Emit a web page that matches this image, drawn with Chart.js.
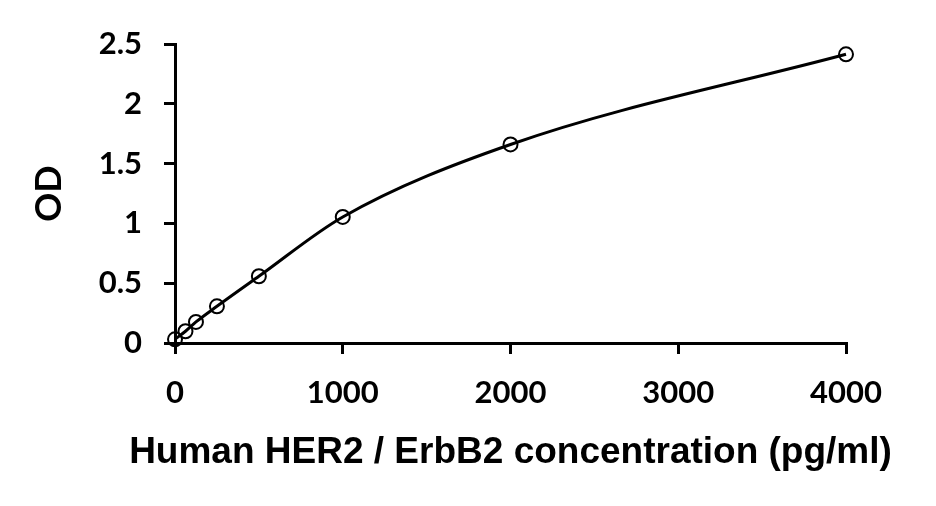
<!DOCTYPE html>
<html>
<head>
<meta charset="utf-8">
<script src="https://cdn.jsdelivr.net/npm/chart.js@4"></script>
<style>
  html, body { margin: 0; padding: 0; background: #fff; }
  #wrap { width: 936px; height: 506px; position: relative; }
</style>
</head>
<body>
<div id="wrap"><canvas id="chart"></canvas></div>
<script>
// Standard curve: concentration (pg/ml) vs OD
const concentration = [0, 62.5, 125, 250, 500, 1000, 2000, 4000];
const odValues = [0.031, 0.098, 0.176, 0.307, 0.558, 1.054, 1.66, 2.414];
const xTicks = [0, 1000, 2000, 3000, 4000];
const yTicks = [0, 0.5, 1, 1.5, 2, 2.5];

const xTitle = 'Human HER2 / ErbB2 concentration (pg/ml)';
const yTitle = 'OD';

const tickFont = { family: 'Lato', size: 31, weight: 'bold' };

// x title is wider than the plot area, so Chart.js would squeeze it; draw it centred under the axis
const xTitlePlugin = {
  id: 'xTitle',
  afterDraw(chart) {
    const { ctx, chartArea } = chart;
    ctx.save();
    ctx.font = 'bold 37px "Liberation Sans", Arial, sans-serif';
    ctx.fillStyle = '#000';
    ctx.textAlign = 'center';
    ctx.textBaseline = 'alphabetic';
    ctx.fillText(xTitle, (chartArea.left + chartArea.right) / 2, 463);
    ctx.restore();
  },
};

new Chart(document.getElementById('chart'), {
  type: 'scatter',
  data: {
    datasets: [{
      data: concentration.map((c, i) => ({ x: c, y: odValues[i] })),
      showLine: true,
      cubicInterpolationMode: 'monotone',
      borderColor: '#000',
      borderWidth: 3,
      pointRadius: 7,
      pointBorderWidth: 2,
      pointBorderColor: '#000',
      pointBackgroundColor: 'rgba(255,255,255,0)',
      clip: false,
    }],
  },
  options: {
    responsive: true,
    maintainAspectRatio: false,
    animation: false,
    layout: { padding: { top: 44, right: 90, left: 0, bottom: 0 } },
    plugins: { legend: { display: false }, tooltip: { enabled: false } },
    scales: {
      x: {
        type: 'linear',
        min: 0,
        max: 4000,
        afterBuildTicks: (s) => { s.ticks = xTicks.map((v) => ({ value: v })); },
        afterFit: (s) => { s.height = 163; },
        grid: { drawOnChartArea: false, color: '#000', lineWidth: 3, tickLength: 11 },
        border: { color: '#000', width: 3 },
        ticks: { color: '#000', font: tickFont, padding: 20, maxRotation: 0, callback: (v) => String(v) },
      },
      y: {
        type: 'linear',
        min: 0,
        max: 2.5,
        afterBuildTicks: (s) => { s.ticks = yTicks.map((v) => ({ value: v })); },
        afterFit: (s) => { s.width = 175; },
        grid: { drawOnChartArea: false, color: '#000', lineWidth: 3, tickLength: 11 },
        border: { color: '#000', width: 3 },
        ticks: { color: '#000', font: tickFont, padding: 22, callback: (v) => String(v) },
        title: {
          display: true,
          text: yTitle,
          color: '#000',
          font: { family: 'Lato', size: 36, weight: 'bold' },
          padding: { top: 28, bottom: 0 },
        },
      },
    },
  },
  plugins: [xTitlePlugin],
});
</script>
</body>
</html>
